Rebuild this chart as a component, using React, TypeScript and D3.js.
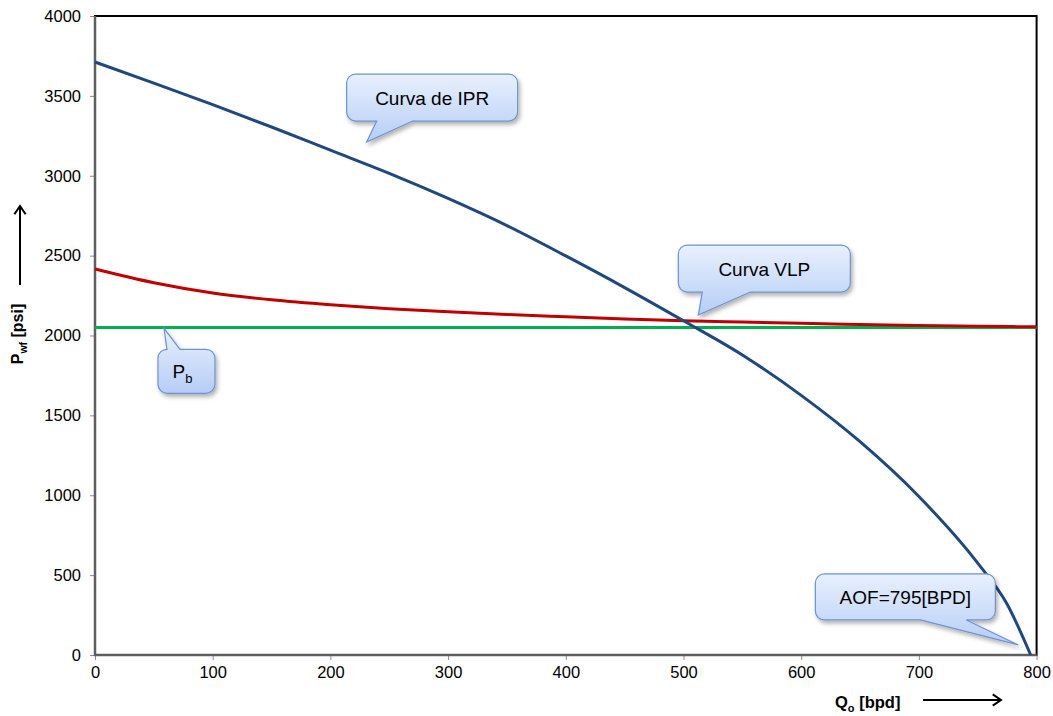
import React, { useEffect, useRef } from "react";
import * as d3 from "d3";

// ---- data ----
const iprQ = [0, 50, 100, 150, 200, 250, 300, 350, 400, 450, 500, 550, 600, 650, 700, 750, 775, 795];
const iprP = [3712, 3580, 3445, 3305, 3160, 3015, 2858, 2688, 2498, 2300, 2092, 1878, 1625, 1335, 992, 575, 318, 0];

const vlpQ = [0, 50, 100, 150, 200, 250, 300, 350, 400, 450, 500, 550, 600, 650, 700, 750, 800];
const vlpP = [2416, 2330, 2266, 2224, 2193, 2168, 2148, 2131, 2117, 2104, 2093, 2084, 2076, 2069, 2063, 2058, 2054];

const pbQ = [0, 800];
const pbP = [2050, 2050];

const xTicks = [0, 100, 200, 300, 400, 500, 600, 700, 800];
const yTicks = [0, 500, 1000, 1500, 2000, 2500, 3000, 3500, 4000];

// callouts: tip in data units, box relative to tip in px
const callouts = [
  { text: "Curva de IPR", sub: "", tipQ: 230.8, tipP: 3211, bx: -20, by: -68, bw: 171, bh: 47, edge: "bottom", b1: 10, b2: 46 },
  { text: "Curva VLP", sub: "", tipQ: 512.6, tipP: 2128, bx: -20, by: -70, bw: 172, bh: 47, edge: "bottom", b1: 4, b2: 52 },
  { text: "P", sub: "b", tipQ: 58.6, tipP: 2045, bx: -6, by: 21, bw: 57, bh: 44, edge: "top", b1: 3, b2: 16 },
  { text: "AOF=795[BPD]", sub: "", tipQ: 784.5, tipP: 63, bx: -203, by: -71, bw: 180, bh: 46, edge: "bottom", b1: -98, b2: -52 },
];

const W = 1053, H = 716;
const FONT = "'Liberation Sans', Arial, Helvetica, sans-serif";

function calloutPath(x0: number, y0: number, w: number, h: number, r: number, edge: string, b1: number, b2: number, tx: number, ty: number) {
  const x1 = x0 + w, y1 = y0 + h;
  let p = `M${x0 + r},${y0}`;
  if (edge === "top") p += ` H${b1} L${tx},${ty} L${b2},${y0}`;
  p += ` H${x1 - r} A${r},${r} 0 0 1 ${x1},${y0 + r} V${y1 - r} A${r},${r} 0 0 1 ${x1 - r},${y1}`;
  if (edge === "bottom") p += ` H${b2} L${tx},${ty} L${b1},${y1}`;
  p += ` H${x0 + r} A${r},${r} 0 0 1 ${x0},${y1 - r} V${y0 + r} A${r},${r} 0 0 1 ${x0 + r},${y0} Z`;
  return p;
}

export default function App() {
  const ref = useRef<SVGSVGElement>(null);
  useEffect(() => {
    const svg = d3.select(ref.current);
    svg.selectAll("*").remove();
    const x = d3.scaleLinear().domain([0, 800]).range([95, 1036.6]);
    const y = d3.scaleLinear().domain([0, 4000]).range([655, 16]);

    const defs = svg.append("defs");
    const g = defs.append("linearGradient").attr("id", "cg").attr("x1", 0).attr("y1", 0).attr("x2", 0).attr("y2", 1);
    g.append("stop").attr("offset", "0").attr("stop-color", "#e8f0fd");
    g.append("stop").attr("offset", "0.5").attr("stop-color", "#cfdffa");
    g.append("stop").attr("offset", "1").attr("stop-color", "#b6cdf6");
    const f = defs.append("filter").attr("id", "sh").attr("x", "-20%").attr("y", "-20%").attr("width", "150%").attr("height", "160%");
    f.append("feDropShadow").attr("dx", 2).attr("dy", 3).attr("stdDeviation", 2).attr("flood-color", "#000").attr("flood-opacity", 0.3);

    // frame
    svg.append("rect").attr("x", 95).attr("y", 16).attr("width", 1036.6 - 95).attr("height", 655 - 16)
      .attr("fill", "none").attr("stroke", "#000").attr("stroke-width", 2);

    // axes
    const yAxis = d3.axisLeft(y).tickValues(yTicks).tickSize(5).tickPadding(9).tickFormat(d3.format("d"));
    const ya = svg.append("g").attr("transform", "translate(95,0)").call(yAxis);
    const xAxis = d3.axisBottom(x).tickValues(xTicks).tickSize(5).tickPadding(6).tickFormat(d3.format("d"));
    const xa = svg.append("g").attr("transform", "translate(0,655)").call(xAxis);
    [ya, xa].forEach((a) => {
      a.select(".domain").remove();
      a.selectAll("line").attr("stroke", "#8c8c8c").attr("stroke-width", 1);
      a.selectAll("text").attr("font-family", FONT).attr("font-size", 16.5).attr("fill", "#000");
    });
    svg.append("line").attr("x1", 95).attr("x2", 95).attr("y1", 16).attr("y2", 656).attr("stroke", "#5f5f5f").attr("stroke-width", 2.5);
    svg.append("line").attr("x1", 94).attr("x2", 1036.6).attr("y1", 655).attr("y2", 655).attr("stroke", "#5f5f5f").attr("stroke-width", 2.5);

    // series
    const line = d3.line<[number, number]>().x((d) => x(d[0])).y((d) => y(d[1]));
    const smooth = d3.line<[number, number]>().x((d) => x(d[0])).y((d) => y(d[1])).curve(d3.curveMonotoneX);
    svg.append("path").datum(pbQ.map((q, i) => [q, pbP[i]] as [number, number])).attr("d", line)
      .attr("fill", "none").attr("stroke", "#00b050").attr("stroke-width", 3);
    svg.append("path").datum(vlpQ.map((q, i) => [q, vlpP[i]] as [number, number])).attr("d", smooth)
      .attr("fill", "none").attr("stroke", "#c00000").attr("stroke-width", 3);
    svg.append("path").datum(iprQ.map((q, i) => [q, iprP[i]] as [number, number])).attr("d", smooth)
      .attr("fill", "none").attr("stroke", "#1f497d").attr("stroke-width", 3);

    // callouts
    callouts.forEach((c) => {
      const tx = x(c.tipQ), ty = y(c.tipP);
      const x0 = tx + c.bx, y0 = ty + c.by;
      svg.append("path")
        .attr("d", calloutPath(x0, y0, c.bw, c.bh, 9, c.edge, tx + c.b1, tx + c.b2, tx, ty))
        .attr("fill", "url(#cg)").attr("stroke", "#6d93d0").attr("stroke-width", 1.2).attr("filter", "url(#sh)");
      const t = svg.append("text").attr("x", x0 + c.bw / 2 - (c.sub ? 4 : 0)).attr("y", y0 + c.bh / 2 + 7)
        .attr("text-anchor", "middle").attr("font-family", FONT).attr("font-size", 19).attr("fill", "#000");
      t.append("tspan").text(c.text);
      if (c.sub) t.append("tspan").attr("dy", 5).attr("font-size", 13).text(c.sub);
    });

    // axis titles
    const yt = svg.append("text").attr("transform", "translate(23,334) rotate(-90)").attr("text-anchor", "middle")
      .attr("font-family", FONT).attr("font-size", 16).attr("font-weight", "bold").attr("fill", "#000");
    yt.append("tspan").text("P");
    yt.append("tspan").attr("dy", 4).attr("font-size", 10.5).text("wf");
    yt.append("tspan").attr("dy", -4).text(" [psi]");

    const xt = svg.append("text").attr("x", 835).attr("y", 708)
      .attr("font-family", FONT).attr("font-size", 16.5).attr("font-weight", "bold").attr("fill", "#000");
    xt.append("tspan").text("Q");
    xt.append("tspan").attr("dy", 4).attr("font-size", 11).text("o");
    xt.append("tspan").attr("dy", -4).text(" [bpd]");

    // arrows
    const arrow = (x1: number, y1: number, x2: number, y2: number) => {
      const a = svg.append("g").attr("stroke", "#000").attr("stroke-width", 2).attr("fill", "none");
      a.append("line").attr("x1", x1).attr("y1", y1).attr("x2", x2).attr("y2", y2);
      const ang = Math.atan2(y2 - y1, x2 - x1);
      const L = 10, s = 0.6;
      a.append("polyline").attr("points", [
        [x2 - L * Math.cos(ang - s), y2 - L * Math.sin(ang - s)],
        [x2, y2],
        [x2 - L * Math.cos(ang + s), y2 - L * Math.sin(ang + s)],
      ].map((p) => p.join(",")).join(" "));
    };
    arrow(20, 285, 20, 206);
    arrow(923, 700, 1001, 700);
  }, []);
  return (
    <svg ref={ref} width={W} height={H} style={{ position: "absolute", left: 0, top: 0, background: "#fff" }} />
  );
}
